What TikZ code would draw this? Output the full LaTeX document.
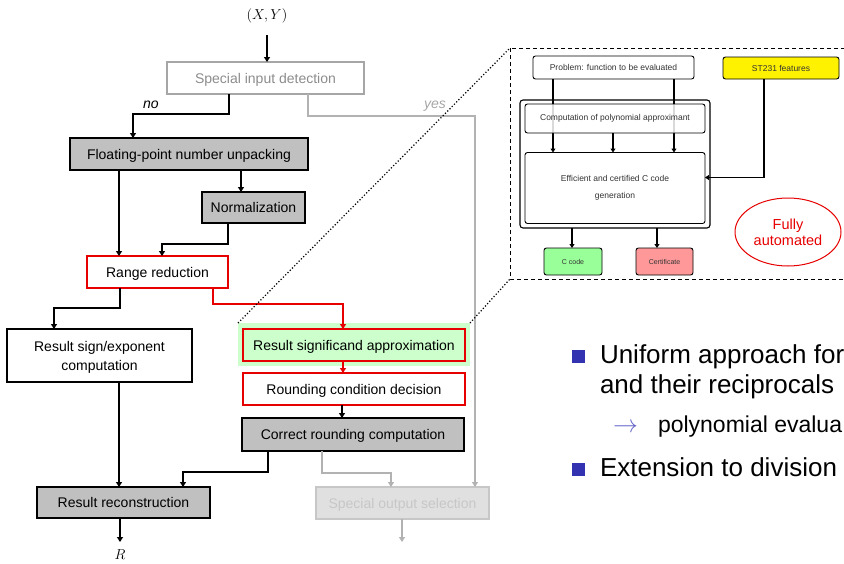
\documentclass[tikz,border=0pt]{standalone}
\usepackage{fontspec}
\setmainfont{Liberation Sans}
\usetikzlibrary{arrows.meta,shapes.geometric,calc}
\definecolor{boxgray}{RGB}{192,192,192}
\definecolor{lgreen}{RGB}{204,255,204}
\definecolor{cgreen}{RGB}{153,255,153}
\definecolor{cpink}{RGB}{255,153,153}
\definecolor{bulletblue}{RGB}{51,51,178}
\definecolor{arrowblue}{RGB}{100,100,200}
\definecolor{redline}{RGB}{230,0,0}
\begin{document}
\begin{tikzpicture}[x=1pt,y=-1pt,
  every node/.style={inner sep=0pt,outer sep=0pt},
  boxbase/.style={draw,line width=1.4pt,font=\fontsize{14}{19}\selectfont,align=center},
  mainbox/.style={boxbase,text height=10pt,text depth=0pt},
  graybox/.style={mainbox,fill=boxgray},
  redbox/.style={mainbox,draw=redline,fill=white},
  arr/.style={line width=1.5pt,-{Triangle[length=5pt,width=6pt]}},
  redarr/.style={arr,draw=redline,-{Triangle[length=5pt,width=6pt,fill=redline]},color=redline},
  grayarr/.style={arr,color=black!30},
  smallbox/.style={draw,line width=0.9pt,rounded corners=2.5pt,font=\fontsize{8.5}{17}\selectfont,text=black!80,align=center},
  smallarr/.style={line width=1.1pt,-{Triangle[length=4pt,width=5pt]}},
  bigtext/.style={anchor=base west,font=\fontsize{26}{30}\selectfont},
  bulletsq/.style={fill=bulletblue,minimum width=13pt,minimum height=13pt}
]
\useasboundingbox (0,0) rectangle (844,563);
\clip (0,0) rectangle (844,563);

% ---------------- left flow chart ----------------
\node[font=\fontsize{14}{16}\selectfont] (xy) at (267,16) {$(X,Y)$};
\coordinate (xyb) at (267,35);

\node[mainbox,draw=black!35,text=black!45,minimum width=197pt,minimum height=32pt] (spec) at (265.5,78) {Special input detection};
\node[graybox,minimum width=238pt,minimum height=32pt] (float) at (189,154) {Floating-point number unpacking};
\node[graybox,minimum width=103pt,minimum height=31pt] (norm) at (253.5,207.5) {Normalization};
\node[redbox,minimum width=141pt,minimum height=32pt] (range) at (157.5,272) {Range reduction};
\node[boxbase,fill=white,minimum width=185pt,minimum height=53pt] (sign) at (99.5,355.5) {};
\node[font=\fontsize{14}{19}\selectfont,align=center] (signtext) at (99.5,357) {Result sign/exponent\\computation};
\node[fill=lgreen,minimum width=232pt,minimum height=43pt] (greenbg) at (354,344.5) {};
\node[redbox,fill=lgreen,minimum width=222pt,minimum height=32pt] (signif) at (354,345) {Result significand approximation};
\node[redbox,minimum width=222pt,minimum height=32pt] (round) at (354,389) {Rounding condition decision};
\node[graybox,minimum width=222pt,minimum height=33pt] (correct) at (353,434.5) {Correct rounding computation};
\node[graybox,minimum width=173pt,minimum height=31pt] (recon) at (123.5,502.5) {Result reconstruction};
\node[mainbox,draw=black!22,fill=black!12,text=black!22,minimum width=173pt,minimum height=32pt] (specout) at (402.5,503) {Special output selection};
\coordinate (rend) at (120,542);
\node[font=\fontsize{14}{16}\selectfont] (R) at (120,554.5) {$R$};
\coordinate (soend) at (402,542);

\node[font=\fontsize{14}{16}\selectfont\itshape,anchor=base] (no) at (151,108) {no};
\node[font=\fontsize{14}{16}\selectfont\itshape,text=black!35,anchor=base] (yes) at (435,108) {yes};

\draw[arr] (xyb) -- (xyb |- spec.north);
\draw[arr] ([xshift=62pt]spec.south west) -- ++(0,20) -| ([xshift=63pt]float.north west);
\draw[grayarr] ([xshift=141pt]spec.south west) -- ++(0,22) -| ([xshift=159pt]specout.north west);
\draw[arr] ([xshift=171pt]float.south west) -- ([xshift=39pt]norm.north west);
\draw[arr] ([xshift=49pt]float.south west) -- ([xshift=32pt]range.north west);
\draw[arr] ([xshift=26pt]norm.south west) -- ++(0,21) -| ([xshift=75pt]range.north west);
\draw[arr] ([xshift=33pt]range.south west) -- ++(0,20) -| ([xshift=47pt]sign.north west);
\draw[redarr] ([xshift=126pt]range.south west) -- ++(0,16) -| ([xshift=100pt]signif.north west);
\draw[redarr] ([xshift=100pt]signif.south west) -- ([xshift=100pt]round.north west);
\draw[arr] ([xshift=99pt]round.south west) -- ([xshift=100pt]correct.north west);
\draw[arr] ([xshift=26pt]correct.south west) -- ++(0,21) -| ([xshift=146pt]recon.north west);
\draw[arr] ([xshift=112pt]sign.south west) -- ([xshift=82pt]recon.north west);
\draw[arr] ([xshift=83pt]recon.south west) -- (rend);
\draw[grayarr] ([xshift=80pt]correct.south west) -- ++(0,22) -| ([xshift=75pt]specout.north west);
\draw[grayarr] ([xshift=86pt]specout.south west) -- (soend);

% ---------------- zoom frame ----------------
\coordinate (zoomnw) at (510,48);
\coordinate (zoomsw) at (510,279);
\coordinate (zoomse) at (870,279);
\draw[dashed,line width=1pt,dash pattern=on 4pt off 3pt] (zoomnw) rectangle (zoomse);
\draw[dotted,line width=1.2pt] (greenbg.north west) -- (zoomnw);
\draw[dotted,line width=1.2pt] (greenbg.north east) -- (zoomsw);

% ---------------- right diagram ----------------
\node[smallbox,minimum width=161pt,minimum height=23pt] (problem) at (613.5,67.5) {Problem: function to be evaluated};
\node[smallbox,fill=yellow,minimum width=116pt,minimum height=22pt] (st) at (781,68) {ST231 features};
\node[draw,line width=1.1pt,rounded corners=3pt,minimum width=190pt,minimum height=128pt] (frame) at (615,164) {};
\node[smallbox,fill=white,minimum width=180pt,minimum height=71pt] (eff) at (615,188) {Efficient and certified C code\\generation};
\draw[smallarr] ([xshift=20pt]problem.south west) -- ([xshift=28pt]eff.north west);
\draw[smallarr] ([xshift=141pt]problem.south west) -- ([xshift=149pt]eff.north west);
\node[smallbox,fill=white,fill opacity=0.85,text opacity=1,minimum width=180pt,minimum height=29pt] (comp) at (615,118.5) {Computation of polynomial approximant};
\draw[smallarr] ([xshift=88pt]comp.south west) -- ([xshift=88pt]eff.north west);
\draw[smallarr] ([xshift=41pt]st.south west) |- ([yshift=10.5pt]eff.east);
\node[smallbox,fill=cgreen,font=\fontsize{7}{8}\selectfont,minimum width=58pt,minimum height=27pt] (ccode) at (573,261.5) {C code};
\node[smallbox,fill=cpink,font=\fontsize{7}{8}\selectfont,minimum width=57pt,minimum height=27pt] (cert) at (664.5,261.5) {Certificate};
\draw[smallarr] ([xshift=52pt]frame.south west) -- ([xshift=28pt]ccode.north west);
\draw[smallarr] ([xshift=137pt]frame.south west) -- ([xshift=21pt]cert.north west);
\node[ellipse,draw=redline,line width=1pt,text=redline,minimum width=106pt,minimum height=68pt,align=center,font=\fontsize{14.5}{16}\selectfont] (auto) at (788,232) {Fully\\automated};

% ---------------- bullets ----------------
\node[bulletsq] (b1) at (578.5,356) {};
\node[bigtext] (t1) at (600,363) {Uniform approach for};
\node[bigtext] (t2) at (600,393) {and their reciprocals};
\node[anchor=base west,text=arrowblue,font=\fontsize{23}{26}\selectfont] (arrsym) at (613,432) {$\rightarrow$};
\node[anchor=base west,font=\fontsize{23}{26}\selectfont] (t3) at (658,432) {polynomial evalua};
\node[bulletsq] (b2) at (578.5,469.5) {};
\node[bigtext] (t4) at (600,476) {Extension to division};
\end{tikzpicture}
\end{document}
